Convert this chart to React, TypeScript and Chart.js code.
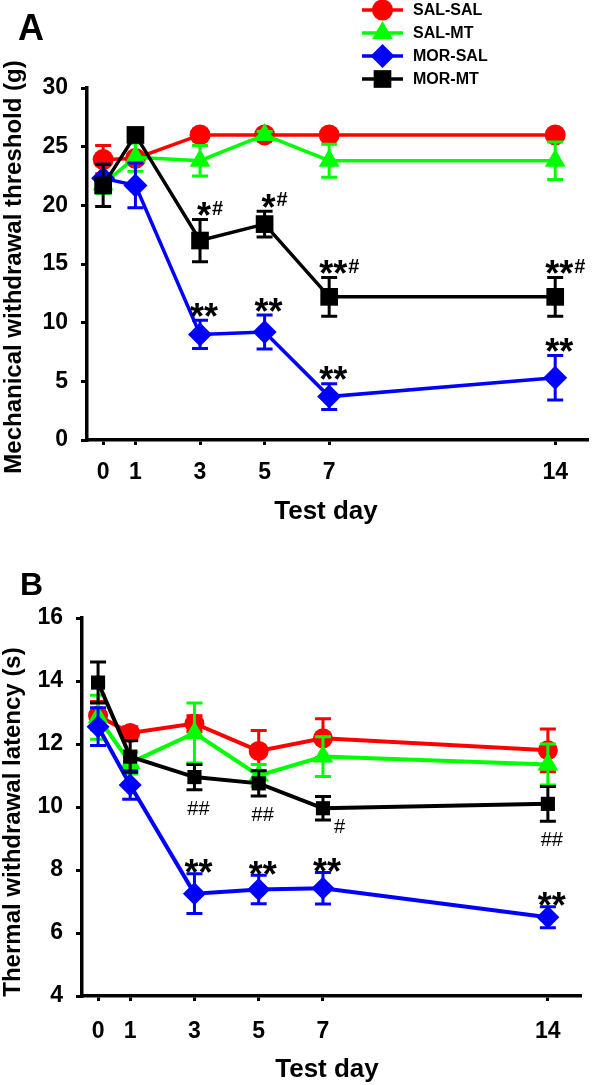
import React, { useEffect, useRef } from 'react';
import { Chart, registerables } from 'chart.js';
import { drawPoint } from 'chart.js/helpers';

Chart.register(...registerables);

const FONT = '"Liberation Sans", Arial, Helvetica, sans-serif';

// ---------- shared ----------
const testDays = [0, 1, 3, 5, 7, 14];
const dayTicks = [0, 1, 3, 5, 7, 14];
const groupNames = ['SAL-SAL', 'SAL-MT', 'MOR-SAL', 'MOR-MT'];
const groupColors = ['#ff0000', '#00ff00', '#0000ff', '#000000'];
const groupMarkers = ['circle', 'triangle', 'rectRot', 'rect'];

// ---------- panel A: mechanical withdrawal threshold (g) ----------
const mechTicks = [0, 5, 10, 15, 20, 25, 30];
const mechSalSal = [23.9, 24.0, 26.0, 26.0, 26.0, 26.0];
const mechSalSalErr = [1.2, 0.4, 0.2, 0.2, 0.2, 0.2];
const mechSalMt = [21.8, 24.1, 23.8, 26.0, 23.8, 23.8];
const mechSalMtErr = [0.8, 1.2, 1.3, 0.3, 1.4, 1.6];
const mechMorSal = [22.3, 21.7, 9.0, 9.2, 3.7, 5.3];
const mechMorSalErr = [1.2, 1.9, 1.2, 1.45, 1.1, 1.9];
const mechMorMt = [21.7, 26.0, 17.0, 18.4, 12.2, 12.2];
const mechMorMtErr = [1.8, 0.2, 1.8, 1.1, 1.65, 1.65];
const mechMorSalMarks = ['', '', '**', '**', '**', '**'];
const mechMorMtMarks = ['', '', '*#', '*#', '**#', '**#'];

// ---------- panel B: thermal withdrawal latency (s) ----------
const thermTicks = [4, 6, 8, 10, 12, 14, 16];
const thermSalSal = [12.9, 12.35, 12.65, 11.78, 12.18, 11.8];
const thermSalSalErr = [0.45, 0.2, 0.25, 0.65, 0.62, 0.68];
const thermSalMt = [12.85, 11.4, 12.35, 11.0, 11.6, 11.35];
const thermSalMtErr = [0.7, 0.35, 0.95, 0.35, 0.63, 0.65];
const thermMorSal = [12.55, 10.7, 7.25, 7.38, 7.42, 6.5];
const thermMorSalErr = [0.6, 0.45, 0.63, 0.45, 0.5, 0.33];
const thermMorMt = [13.95, 11.6, 10.95, 10.75, 9.96, 10.1];
const thermMorMtErr = [0.65, 0.5, 0.4, 0.4, 0.37, 0.55];
const thermMorSalMarks = ['', '', '**', '**', '**', '**'];
const thermMorMtMarks = ['', '', '##', '##', '#', '##'];

// ---------- plugins ----------
const errorBarPlugin = {
  id: 'errorBars',
  beforeDatasetDraw(chart: any, args: any, opts: any) {
    const ds: any = chart.data.datasets[args.index];
    if (!ds.errors) return;
    const ys = chart.scales.y;
    const ctx = chart.ctx;
    ctx.save();
    ctx.strokeStyle = ds.borderColor;
    ctx.lineWidth = opts.width || 3;
    args.meta.data.forEach((pt: any, i: number) => {
      const v = ds.data[i].y;
      const e = ds.errors[i];
      const top = ys.getPixelForValue(v + e);
      const bot = ys.getPixelForValue(v - e);
      const c = opts.cap;
      ctx.beginPath();
      ctx.moveTo(pt.x, top);
      ctx.lineTo(pt.x, bot);
      ctx.moveTo(pt.x - c, top);
      ctx.lineTo(pt.x + c, top);
      ctx.moveTo(pt.x - c, bot);
      ctx.lineTo(pt.x + c, bot);
      ctx.stroke();
    });
    ctx.restore();
  },
};

const marksPlugin = {
  id: 'sigMarks',
  afterDatasetsDraw(chart: any, _a: any, o: any) {
    const ctx = chart.ctx;
    const ys = chart.scales.y;
    chart.data.datasets.forEach((ds: any, di: number) => {
      if (!ds.marks) return;
      const meta = chart.getDatasetMeta(di);
      ds.marks.forEach((m: string, i: number) => {
        if (!m) return;
        const pt = meta.data[i];
        const v = ds.data[i].y;
        const e = ds.errors[i];
        const stars = m.replace(/#/g, '');
        const hashes = m.replace(/\*/g, '');
        ctx.save();
        ctx.fillStyle = '#000';
        ctx.textAlign = 'left';
        ctx.textBaseline = 'alphabetic';
        const starFont = `bold ${o.starSize}px ${FONT}`;
        const hashFont = `${o.hashWeight} ${o.hashSize}px ${FONT}`;
        ctx.font = starFont;
        const sw = stars ? ctx.measureText(stars).width : 0;
        ctx.font = hashFont;
        const hw = hashes ? ctx.measureText(hashes).width : 0;
        if (ds.markSide === 'above') {
          const top = ys.getPixelForValue(v + e);
          const cy = top - o.aboveGap;
          const sx = pt.x + o.dx - sw / 2;
          if (stars) {
            ctx.font = starFont;
            ctx.fillText(stars, sx, cy + o.starSize * 0.57);
          }
          if (hashes) {
            ctx.font = hashFont;
            ctx.fillText(hashes, sx + sw + 1, cy + o.hashSize * 0.36);
          }
        } else {
          const bot = ys.getPixelForValue(v - e);
          ctx.font = hashFont;
          if (!stars && hashes.length === 1) {
            ctx.fillText(hashes, pt.x + 11, bot + 6 + o.hashSize * 0.36);
          } else {
            ctx.fillText(hashes, pt.x + o.dx - hw / 2, bot + o.belowGap + o.hashSize * 0.36);
          }
        }
        ctx.restore();
      });
    });
  },
};

const legendPlugin = {
  id: 'sideLegend',
  afterDraw(chart: any, _a: any, o: any) {
    if (!o.show) return;
    const ctx = chart.ctx;
    chart.data.datasets.forEach((ds: any, i: number) => {
      const y = o.top + i * o.rowGap;
      ctx.save();
      ctx.strokeStyle = ds.borderColor;
      ctx.lineWidth = 3.5;
      ctx.beginPath();
      ctx.moveTo(o.x0, y);
      ctx.lineTo(o.x1, y);
      ctx.stroke();
      ctx.fillStyle = ds.backgroundColor;
      drawPoint(ctx, { pointStyle: ds.pointStyle, radius: ds.pointRadius, rotation: 0, borderWidth: 0 } as any, (o.x0 + o.x1) / 2, y);
      ctx.fillStyle = '#000';
      ctx.font = `bold ${o.fontSize}px ${FONT}`;
      ctx.textBaseline = 'middle';
      ctx.textAlign = 'left';
      ctx.fillText(ds.label, o.textX, y + 1);
      ctx.restore();
    });
  },
};

const textsPlugin = {
  id: 'panelTexts',
  afterDraw(chart: any, _a: any, o: any) {
    const ctx = chart.ctx;
    ctx.save();
    ctx.fillStyle = '#000';
    ctx.textAlign = 'left';
    ctx.textBaseline = 'alphabetic';
    ctx.font = `bold ${o.letterSize}px ${FONT}`;
    ctx.fillText(o.letter, o.letterX, o.letterY);
    ctx.textAlign = 'center';
    ctx.textBaseline = 'middle';
    ctx.font = `bold ${o.xTitleSize}px ${FONT}`;
    ctx.fillText(o.xTitle, o.xTitleX, o.xTitleY);
    ctx.translate(o.yTitleX, o.yTitleY);
    ctx.rotate(-Math.PI / 2);
    ctx.font = `bold ${o.yTitleSize}px ${FONT}`;
    ctx.fillText(o.yTitle, 0, 0);
    ctx.restore();
  },
};

// ---------- config builder ----------
function buildConfig(p: any) {
  const datasets = p.series.map((s: any, i: number) => ({
    label: groupNames[i],
    data: testDays.map((d, k) => ({ x: d, y: s.values[k] })),
    errors: s.errors,
    marks: s.marks,
    markSide: s.side,
    borderColor: groupColors[i],
    backgroundColor: groupColors[i],
    pointBackgroundColor: groupColors[i],
    pointBorderColor: groupColors[i],
    pointBorderWidth: 0,
    pointStyle: groupMarkers[i],
    pointRadius: p.radii[i],
    pointHoverRadius: p.radii[i],
    borderWidth: p.lineWidth,
    tension: 0,
    clip: false,
    order: 4 - i,
  }));
  const tickFont = { family: FONT, size: 23, weight: 'bold' as const };
  return {
    type: 'line' as const,
    data: { datasets },
    plugins: [errorBarPlugin, marksPlugin, legendPlugin, textsPlugin],
    options: {
      responsive: false,
      maintainAspectRatio: false,
      animation: false as const,
      devicePixelRatio: 1,
      events: [],
      layout: { padding: { top: p.padTop, right: p.padRight, left: 0, bottom: 0 } },
      scales: {
        x: {
          type: 'linear' as const,
          min: -0.5,
          max: 15,
          afterBuildTicks: (sc: any) => {
            sc.ticks = dayTicks.map((v) => ({ value: v }));
          },
          afterFit: (sc: any) => {
            sc.height = p.xAxisHeight;
          },
          grid: { display: true, drawOnChartArea: false, drawTicks: true, tickLength: 5, lineWidth: 3, color: '#000' },
          border: { display: true, width: 3.5, color: '#000' },
          ticks: { color: '#000', font: tickFont, padding: p.xTickPad, maxRotation: 0, autoSkip: false },
        },
        y: {
          type: 'linear' as const,
          min: p.yTicks[0],
          max: p.yTicks[p.yTicks.length - 1],
          afterBuildTicks: (sc: any) => {
            sc.ticks = p.yTicks.map((v: number) => ({ value: v }));
          },
          afterFit: (sc: any) => {
            sc.width = p.yAxisWidth;
          },
          grid: { display: true, drawOnChartArea: false, drawTicks: true, tickLength: 6, lineWidth: 3, color: '#000' },
          border: { display: true, width: 3.5, color: '#000' },
          ticks: { color: '#000', font: tickFont, padding: p.yTickPad },
        },
      },
      plugins: {
        legend: { display: false },
        tooltip: { enabled: false },
        errorBars: { cap: 8, width: 3 },
        sigMarks: { starSize: 36, hashSize: 20, hashWeight: p.hashWeight, aboveGap: p.aboveGap, belowGap: 18, dx: 4 },
        sideLegend: p.legend,
        panelTexts: p.texts,
      },
    },
  };
}

const configA = buildConfig({
  series: [
    { values: mechSalSal, errors: mechSalSalErr },
    { values: mechSalMt, errors: mechSalMtErr },
    { values: mechMorSal, errors: mechMorSalErr, marks: mechMorSalMarks, side: 'above' },
    { values: mechMorMt, errors: mechMorMtErr, marks: mechMorMtMarks, side: 'above' },
  ],
  yTicks: mechTicks,
  radii: [10.5, 12, 12, 12.5],
  lineWidth: 3.5,
  padTop: 88,
  padRight: 2,
  yAxisWidth: 87,
  xAxisHeight: 100,
  xTickPad: 14,
  yTickPad: 13,
  aboveGap: 12,
  hashWeight: 'bold',
  legend: { show: true, top: 10, rowGap: 23, x0: 362, x1: 403, textX: 413, fontSize: 16 },
  texts: {
    letter: 'A', letterX: 18, letterY: 40, letterSize: 36,
    xTitle: 'Test day', xTitleX: 326, xTitleY: 512, xTitleSize: 26,
    yTitle: 'Mechanical withdrawal threshold (g)', yTitleX: 14, yTitleY: 267, yTitleSize: 24,
  },
});

const configB = buildConfig({
  series: [
    { values: thermSalSal, errors: thermSalSalErr },
    { values: thermSalMt, errors: thermSalMtErr },
    { values: thermMorSal, errors: thermMorSalErr, marks: thermMorSalMarks, side: 'above' },
    { values: thermMorMt, errors: thermMorMtErr, marks: thermMorMtMarks, side: 'below' },
  ],
  yTicks: thermTicks,
  radii: [10, 12, 11.5, 10],
  lineWidth: 4,
  padTop: 78,
  padRight: 20,
  yAxisWidth: 82,
  xAxisHeight: 89,
  xTickPad: 17,
  yTickPad: 13,
  aboveGap: 9,
  hashWeight: 'normal',
  legend: { show: false },
  texts: {
    letter: 'B', letterX: 20, letterY: 55, letterSize: 32,
    xTitle: 'Test day', xTitleX: 327, xTitleY: 530, xTitleSize: 26,
    yTitle: 'Thermal withdrawal latency (s)', yTitleX: 13, yTitleY: 282, yTitleSize: 24,
  },
});

function Panel({ config, top, height }: { config: any; top: number; height: number }) {
  const ref = useRef<HTMLCanvasElement | null>(null);
  useEffect(() => {
    if (!ref.current) return;
    const chart = new Chart(ref.current, config);
    return () => chart.destroy();
  }, [config]);
  return (
    <canvas
      ref={ref}
      width={600}
      height={height}
      style={{ position: 'absolute', left: 0, top, width: 600, height, display: 'block' }}
    />
  );
}

export default function App() {
  return (
    <div style={{ position: 'absolute', left: 0, top: 0, width: 600, height: 1085, background: '#fff', overflow: 'hidden' }}>
      <Panel config={configA} top={0} height={540} />
      <Panel config={configB} top={540} height={545} />
    </div>
  );
}
